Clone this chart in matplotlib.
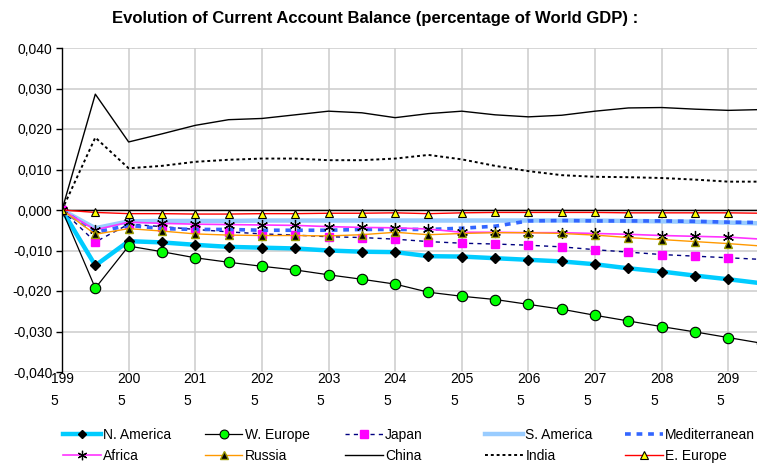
import matplotlib
matplotlib.use("Agg")
import matplotlib.pyplot as plt

plt.rcParams['font.family'] = ['Liberation Sans', 'DejaVu Sans']

years = list(range(1995, 2101, 5))

n_america = [0, -0.0137, -0.0077, -0.0080, -0.0086, -0.0091, -0.0093, -0.0095, -0.0100, -0.0103, -0.0104,
             -0.0114, -0.0115, -0.0119, -0.0123, -0.0127, -0.0134, -0.0144, -0.0152, -0.0162, -0.0171, -0.0181]
w_europe = [0, -0.0193, -0.0089, -0.0103, -0.0118, -0.0129, -0.0139, -0.0148, -0.0160, -0.0171, -0.0183,
            -0.0203, -0.0213, -0.0221, -0.0233, -0.0245, -0.0260, -0.0274, -0.0288, -0.0301, -0.0315, -0.0329]
japan = [0, -0.0079, -0.0035, -0.0041, -0.0048, -0.0054, -0.0059, -0.0062, -0.0066, -0.0068, -0.0072,
         -0.0078, -0.0082, -0.0084, -0.0087, -0.0091, -0.0098, -0.0104, -0.0110, -0.0114, -0.0118, -0.0122]
s_america = [0, -0.0045, -0.0028, -0.0027, -0.0027, -0.0027, -0.0026, -0.0026, -0.0026, -0.0026, -0.0026,
             -0.0026, -0.0026, -0.0026, -0.0026, -0.0026, -0.0026, -0.0027, -0.0028, -0.0029, -0.0031, -0.0033]
mediterranean = [0, -0.0055, -0.0038, -0.0046, -0.0048, -0.0048, -0.0050, -0.0050, -0.0050, -0.0048, -0.0048,
                 -0.0048, -0.0045, -0.0040, -0.0027, -0.0026, -0.0027, -0.0027, -0.0027, -0.0028, -0.0030, -0.0031]
africa = [0, -0.0049, -0.0030, -0.0033, -0.0035, -0.0036, -0.0037, -0.0038, -0.0041, -0.0043, -0.0044,
          -0.0047, -0.0055, -0.0055, -0.0056, -0.0056, -0.0058, -0.0060, -0.0063, -0.0065, -0.0067, -0.0072]
russia = [0, -0.0060, -0.0046, -0.0052, -0.0059, -0.0062, -0.0063, -0.0063, -0.0064, -0.0061, -0.0055,
          -0.0061, -0.0058, -0.0056, -0.0056, -0.0058, -0.0062, -0.0068, -0.0073, -0.0078, -0.0083, -0.0089]
china = [0, 0.0286, 0.0168, 0.0188, 0.0209, 0.0223, 0.0226, 0.0235, 0.0244, 0.0240, 0.0228,
         0.0238, 0.0244, 0.0235, 0.0230, 0.0234, 0.0244, 0.0252, 0.0253, 0.0249, 0.0246, 0.0248]
india = [0, 0.0179, 0.0103, 0.0109, 0.0119, 0.0124, 0.0127, 0.0127, 0.0123, 0.0123, 0.0127,
         0.0136, 0.0125, 0.0109, 0.0096, 0.0086, 0.0082, 0.0081, 0.0079, 0.0075, 0.0070, 0.0070]
e_europe = [0, -0.0006, -0.0009, -0.0009, -0.0010, -0.0010, -0.0009, -0.0009, -0.0008, -0.0008, -0.0007,
            -0.0009, -0.0007, -0.0006, -0.0006, -0.0006, -0.0006, -0.0007, -0.0007, -0.0007, -0.0007, -0.0008]

xtick_years = list(range(1995, 2100, 10))
xtick_labels = [f"{str(y)[:3]}\n{str(y)[3]}" for y in xtick_years]
yticks = [-0.04, -0.03, -0.02, -0.01, 0.0, 0.01, 0.02, 0.03, 0.04]
ytick_labels = ["-0,040", "-0,030", "-0,020", "-0,010", "0,000", "0,010", "0,020", "0,030", "0,040"]

title = "Evolution of Current Account Balance (percentage of World GDP) :"

W, H = 757, 468
fig = plt.figure(figsize=(W / 100, H / 100), dpi=100)
ax = fig.add_axes([62 / W, 1 - 372 / H, 1 - 62 / W, (372 - 48) / H])

ax.set_xlim(1995, 2099.3)
ax.set_ylim(-0.04, 0.04)

grid_c = '#cccccc'
for y in yticks:
    ax.axhline(y, color=grid_c, lw=1.1, zorder=0)
for x in xtick_years:
    ax.axvline(x, color=grid_c, lw=1.1, zorder=0)
ax.axhline(0, color='black', lw=1.0, zorder=1)

series = {}
series['N. America'] = ax.plot(years, n_america, color='#00ccff', lw=3.2, marker='D', ms=5,
                               mfc='black', mec='black', zorder=3)[0]
series['W. Europe'] = ax.plot(years, w_europe, color='black', lw=0.9, marker='o', ms=7.5,
                              mfc='#00ff00', mec='black', mew=0.8, zorder=3)[0]
series['Japan'] = ax.plot(years, japan, color='#000080', lw=1.0, ls=(0, (3, 3)), marker='s', ms=6,
                          mfc='#ff00ff', mec='#ff00ff', zorder=3)[0]
series['S. America'] = ax.plot(years, s_america, color='#99ccff', lw=3.2, zorder=3)[0]
series['Mediterranean'] = ax.plot(years, mediterranean, color='#3366ff', lw=2.6, ls=(0, (1.6, 1.6)),
                                  dash_capstyle='butt', zorder=3)[0]
series['Africa'] = ax.plot(years, africa, color='#ff33ff', lw=1.2, marker=(6, 2, 0), ms=8,
                           mfc='black', mec='black', mew=0.9, zorder=3)[0]
series['Russia'] = ax.plot(years, russia, color='#ff9900', lw=1.0, marker='^', ms=6,
                           mfc='black', mec='#999900', mew=1.0, zorder=3)[0]
series['China'] = ax.plot(years, china, color='black', lw=1.0, zorder=3)[0]
series['India'] = ax.plot(years, india, color='black', lw=1.4, ls=(0, (1.5, 1.5)), zorder=3)[0]
series['E. Europe'] = ax.plot(years, e_europe, color='#ff0000', lw=1.0, marker='^', ms=6,
                              mfc='#ffff00', mec='black', mew=0.8, zorder=3)[0]

ax.set_yticks(yticks)
ax.set_yticklabels(ytick_labels, fontsize=10)
ax.set_xticks(xtick_years)
ax.set_xticklabels(xtick_labels, fontsize=10, linespacing=1.75, multialignment='left')
ax.tick_params(axis='x', length=0, pad=0)
ax.tick_params(axis='y', length=4, width=1, color='black', pad=3, direction='out')

for s in ['top', 'right', 'bottom']:
    ax.spines[s].set_visible(False)
ax.spines['left'].set_color('black')
ax.spines['left'].set_linewidth(1.0)
ax.spines['left'].set_zorder(4)

fig.text(375 / W, 1 - 18 / H, title, ha='center', va='center', fontsize=12, fontweight='bold')

columns = [['N. America', 'Africa'], ['W. Europe', 'Russia'], ['Japan', 'China'],
           ['S. America', 'India'], ['Mediterranean', 'E. Europe']]
col_x = [63, 205, 345, 485, 625]
for names, cx in zip(columns, col_x):
    fig.legend([series[n] for n in names], names, loc='center left',
               bbox_to_anchor=(cx / W, 1 - 445.5 / H), frameon=False, fontsize=10,
               borderpad=0, borderaxespad=0, handlelength=2.7, handletextpad=0.2,
               labelspacing=0.5, markerscale=0.85)

fig.savefig('out.png', dpi=100)
